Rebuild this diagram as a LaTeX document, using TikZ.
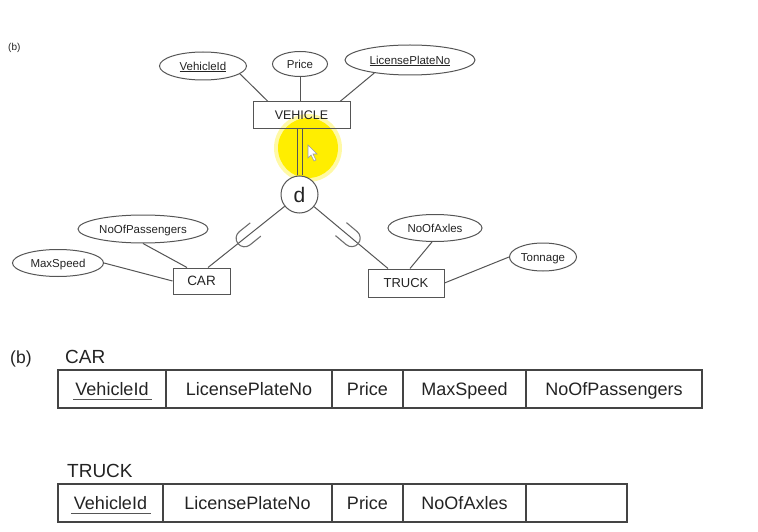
\documentclass[tikz,border=0pt]{standalone}
\usepackage{fontspec}
\setmainfont{Liberation Sans}
\usetikzlibrary{shapes.geometric,calc}
\definecolor{ln}{RGB}{85,85,85}
\definecolor{tx}{RGB}{35,35,35}
\definecolor{hl}{RGB}{255,238,0}
\tikzset{
  ent/.style={draw=ln, line width=1pt, rectangle, inner sep=0pt, text=tx, text height=11.5pt, text depth=2.5pt},
  attr/.style={draw=ln, line width=1pt, ellipse, inner sep=0pt, text=tx, font=\fontsize{11.5}{12}\selectfont, text height=11pt, text depth=2.8pt},
  conn/.style={draw=ln, line width=1pt},
  cell/.style={draw=ln!80!black, line width=1.3pt, rectangle, inner sep=0pt, minimum height=38pt, text=tx, font=\fontsize{18}{20}\selectfont, text height=16.3pt, text depth=3.5pt},
  hdr/.style={inner sep=0pt, text=tx, font=\fontsize{19}{21}\selectfont, anchor=base west},
  cupline/.style={draw=ln!85, line width=1.1pt}
}
\begin{document}
\begin{tikzpicture}[x=1pt,y=-1pt]
\useasboundingbox (0,0) rectangle (758,532);
% highlight (screen recording)
\fill[hl, opacity=0.35] (308,148) circle[radius=34pt];
\fill[hl] (308,148) circle[radius=30pt];
% top label
\node[inner sep=0pt, anchor=base west, text=tx, font=\fontsize{10}{11}\selectfont] (lbla) at (8,51) {(b)};
% ER part
\node[ent, minimum width=97pt, minimum height=27pt, font=\fontsize{12.5}{13}\selectfont] (vehicle) at (301.5,115.5) {VEHICLE};
\node[attr, minimum width=87pt, minimum height=28pt] (vid) at (203,66) {\underline{VehicleId}};
\node[attr, minimum width=55pt, minimum height=25pt] (price) at (300,64) {Price};
\node[attr, minimum width=130pt, minimum height=30pt] (lpn) at (410,60) {\underline{LicensePlateNo}};
\node[draw=ln, line width=1pt, circle, minimum size=37pt, inner sep=0pt, fill=white, text=tx, font=\fontsize{21}{22}\selectfont] (d) at (299.5,194.5) {d};
\node[ent, minimum width=57pt, minimum height=26pt, font=\fontsize{13.5}{14}\selectfont] (car) at (201.5,281) {CAR};
\node[ent, minimum width=76pt, minimum height=28pt, font=\fontsize{13}{14}\selectfont] (truck) at (406,283) {TRUCK};
\node[attr, minimum width=130pt, minimum height=28pt] (nop) at (143,229) {NoOfPassengers};
\node[attr, minimum width=91pt, minimum height=27pt] (ms) at (58,263) {MaxSpeed};
\node[attr, minimum width=94pt, minimum height=27pt] (noa) at (435,228) {NoOfAxles};
\node[attr, minimum width=67pt, minimum height=28pt] (ton) at (543,257) {Tonnage};
% connectors
\draw[conn] (vid.-12) -- ([xshift=-33.5pt]vehicle.north);
\draw[conn] (price.south) -- (price.south |- vehicle.north);
\draw[conn] (lpn.-160) -- ([xshift=38.5pt]vehicle.north);
\draw[conn] ([xshift=-2.5pt]d.north) -- ([xshift=-2.5pt]d.north |- vehicle.south);
\draw[conn] ([xshift=2.5pt]d.north) -- ([xshift=2.5pt]d.north |- vehicle.south);
\draw[conn] (d) -- ([xshift=6.5pt]car.north);
\draw[conn] (d) -- ([xshift=-18pt]truck.north);
\draw[conn] (nop.south) -- ([xshift=-14.5pt]car.north);
\draw[conn] (ms.east) -- (car.west);
\draw[conn] ([xshift=-3pt]noa.south) -- ([xshift=4pt]truck.north);
\draw[conn] (ton.west) -- (truck.east);
% subset symbols (cup opening toward the circle)
\coordinate (c1) at ($(d)!0.60!([xshift=6.5pt]car.north)$);
\coordinate (c2) at ($(d)!0.59!([xshift=-18pt]truck.north)$);
\begin{scope}[shift={(c1)}, rotate=38.8]
\draw[cupline] (14,8.5) -- (0,8.5) .. controls (-4.7,8.5) and (-8.5,4.7) .. (-8.5,0) .. controls (-8.5,-4.7) and (-4.7,-8.5) .. (0,-8.5) -- (14,-8.5);
\end{scope}
\begin{scope}[shift={(c2)}, rotate=139.9]
\draw[cupline] (14,8.5) -- (0,8.5) .. controls (-4.7,8.5) and (-8.5,4.7) .. (-8.5,0) .. controls (-8.5,-4.7) and (-4.7,-8.5) .. (0,-8.5) -- (14,-8.5);
\end{scope}
% cursor
\draw[ln!60, fill=white, line width=0.6pt] (308,145) -- (308,158) -- (311,155) -- (314,161) -- (316,160) -- (313,154) -- (317,154) -- cycle;
% relational part
\node[hdr, font=\fontsize{17.5}{20}\selectfont] (lblb) at (10,363) {(b)};
\node[hdr] (carh) at (65,363) {CAR};
\node[hdr] (truckh) at (67,477) {TRUCK};
% CAR table
\node[cell, minimum width=108pt] (c11) at (112,389) {VehicleId};
\node[cell, minimum width=166pt] (c12) at (249,389) {LicensePlateNo};
\node[cell, minimum width=71pt] (c13) at (367.5,389) {Price};
\node[cell, minimum width=123pt] (c14) at (464.5,389) {MaxSpeed};
\node[cell, minimum width=176pt] (c15) at (614,389) {NoOfPassengers};
% TRUCK table
\node[cell, minimum width=105pt] (t11) at (110.5,503) {VehicleId};
\node[cell, minimum width=169pt] (t12) at (247.5,503) {LicensePlateNo};
\node[cell, minimum width=71pt] (t13) at (367.5,503) {Price};
\node[cell, minimum width=123pt] (t14) at (464.5,503) {NoOfAxles};
\node[cell, minimum width=101pt] (t15) at (576.5,503) {};
% underlines of keys
\draw[ln, line width=1.8pt] ([yshift=-4pt]c11.base -| 73,0) -- ([yshift=-4pt]c11.base -| 152,0);
\draw[ln, line width=1.8pt] ([yshift=-4pt]t11.base -| 71,0) -- ([yshift=-4pt]t11.base -| 151,0);
\end{tikzpicture}
\end{document}
